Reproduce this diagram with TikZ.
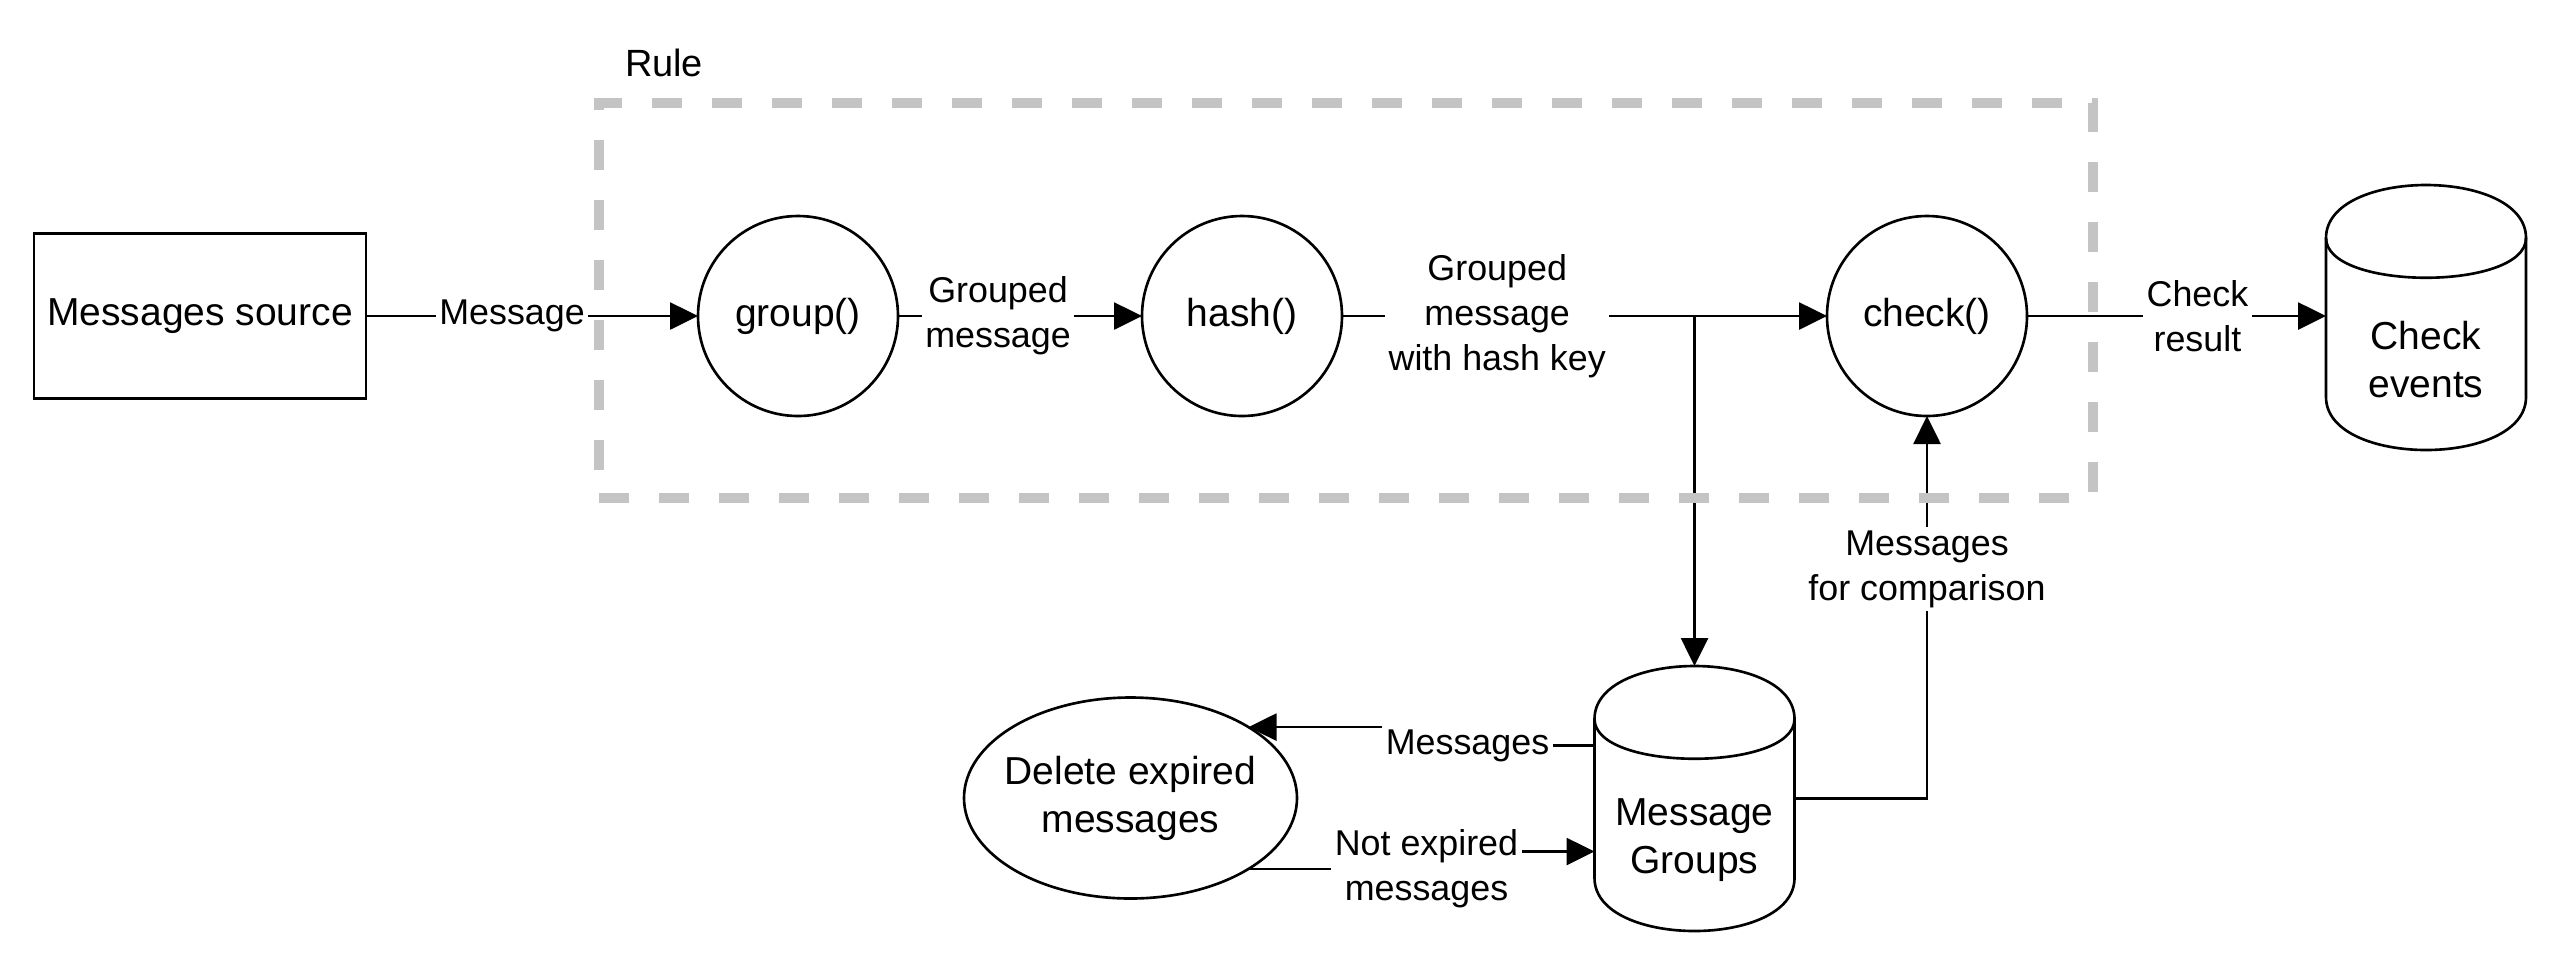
\documentclass[tikz,border=0pt]{standalone}
\usepackage{fontspec}
\setmainfont{Liberation Sans}
\usetikzlibrary{positioning,calc,arrows.meta,shapes.geometric}
\definecolor{rulegray}{RGB}{196,196,196}

% depth of the cylinder cap
\newcommand{\capd}{0.53}
\newcommand{\drum}[1]{%
  \draw ($(#1.north west)+(0,-\capd)$) .. controls ($(#1.north west)+(0,\capd/3)$) and ($(#1.north east)+(0,\capd/3)$) .. ($(#1.north east)+(0,-\capd)$)
    -- ($(#1.south east)+(0,\capd)$) .. controls ($(#1.south east)+(0,-\capd/3)$) and ($(#1.south west)+(0,-\capd/3)$) .. ($(#1.south west)+(0,\capd)$) -- cycle;
  \draw ($(#1.north west)+(0,-\capd)$) .. controls ($(#1.north west)+(0,-2*\capd)$) and ($(#1.north east)+(0,-2*\capd)$) .. ($(#1.north east)+(0,-\capd)$);
}

\begin{document}
\begin{tikzpicture} [every node/.style={outer sep=0pt}, line width=0.75pt]

\tikzstyle{box}=[draw,rectangle,minimum width=3.32cm,minimum height=1.65cm,font=\fontsize{11.1}{13.7}\selectfont]
\tikzstyle{proc}=[draw,circle,minimum size=2cm,inner sep=0pt,font=\fontsize{11.1}{13.7}\selectfont]
\tikzstyle{task}=[draw,ellipse,minimum width=3.33cm,minimum height=2.01cm,inner xsep=-0.2cm,inner ysep=0pt,align=center,font=\fontsize{11.1}{13.7}\selectfont]
\tikzstyle{store}=[rectangle,minimum width=2cm,minimum height=2.65cm]
\tikzstyle{storetxt}=[align=center,inner sep=0pt,yshift=-0.42cm,font=\fontsize{11.1}{13.7}\selectfont]
\tikzstyle{lbl}=[fill=white,inner sep=1pt,align=center,font=\fontsize{10.2}{12.8}\selectfont]
\tikzstyle{flow}=[-{Triangle[length=0.28cm,width=0.27cm]}]
\tikzstyle{frame}=[draw=rulegray,line width=0.1cm,dash pattern=on 0.3cm off 0.3cm,minimum width=14.94cm,minimum height=3.95cm]

\useasboundingbox (0,0) rectangle (25.6,-9.66);

\node (src) [box] at (2.00,-3.16) {Messages source};
\node (group) [proc] at (7.98,-3.16) {group()};
\node (hash) [proc] at (12.42,-3.16) {hash()};
\node (check) [proc] at (19.27,-3.16) {check()};

\node (events) [store,label={[storetxt]center:Check\\events}] at (24.26,-3.175) {};
\drum{events}
\node (groups) [store,label={[storetxt]center:Message\\Groups}] at (16.945,-7.985) {};
\drum{groups}
\node (expire) [task] at (11.305,-7.98) {Delete expired\\messages};

\draw [flow] (src) -- node[lbl,pos=0.44] {Message} (group);
\draw [flow] (group) -- node[lbl,pos=0.41] {Grouped\\message} (hash);
\draw [flow] (hash.east) -| (groups.north);
\draw [flow] (hash) -- node[lbl,pos=0.32] {Grouped\\message\\with hash key} (check);
\draw [flow] (check.east) -- node[lbl,pos=0.57] {Check\\result} (check.east -| events.west);
\draw [flow] (groups.east) -| node[lbl,pos=0.8] {Messages\\for comparison} (check.south);
\draw [flow] ([yshift=0.53cm]groups.west) -- ++(-1.27,0) node[lbl] {Messages} |- (expire.31);
\draw [flow] (expire.-31) -- ++(1.78,0) node[lbl] {Not expired\\messages} |- ([yshift=-0.53cm]groups.west);

\node (rule) [frame] at (13.46,-3.005) {};
\node (rulename) [above right=0.26cm and 0.26cm of rule.north west,inner sep=0pt,font=\fontsize{10.8}{13}\selectfont] {Rule};

%\draw[step=1cm,gray,very thin] (0,0) grid (25.6,-9.66);
\end{tikzpicture}
\end{document}
